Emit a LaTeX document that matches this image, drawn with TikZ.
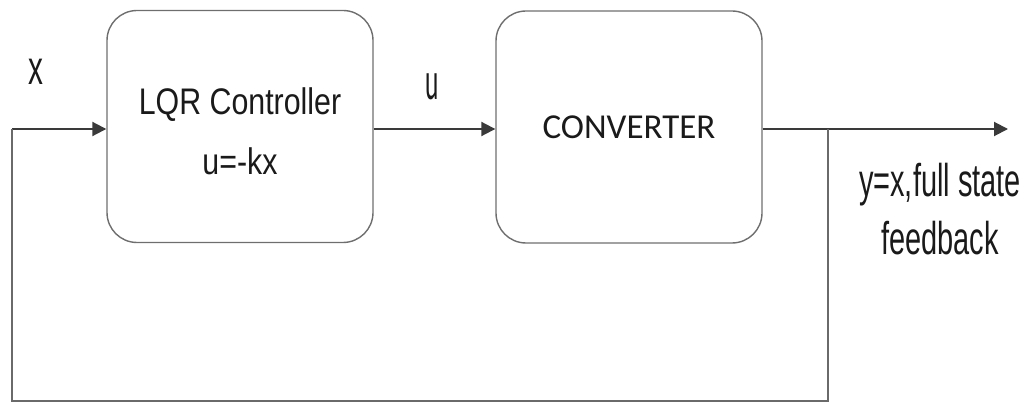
\documentclass[tikz,border=0pt]{standalone}
\usepackage{fontspec}
\usetikzlibrary{arrows.meta}
\newfontfamily\lqrfont[FakeStretch=0.82]{Liberation Sans}
\newfontfamily\yfont[FakeStretch=0.63]{Liberation Sans}
\newfontfamily\xlabfont[FakeStretch=0.62]{Liberation Sans}
\newfontfamily\convfont{Carlito}
\newfontfamily\ulabfont[FakeStretch=0.47]{Carlito}
\definecolor{txt}{HTML}{1A1A1A}
\definecolor{wire}{HTML}{3A3A3A}
\definecolor{fbwire}{HTML}{6A6A6A}
\definecolor{boxline}{HTML}{6E6E6E}
\begin{document}
\begin{tikzpicture}[x=1pt,y=-1pt,
  blockbox/.style={draw=boxline,line width=1.4pt,rounded corners=30pt,
    minimum width=266pt,minimum height=232pt,inner sep=0pt,align=center,text=txt},
  sigwire/.style={draw=wire,line width=2pt,-{Triangle[length=14pt,width=14pt]}},
  fbline/.style={draw=fbwire,line width=2.2pt},
  lab/.style={inner sep=0pt,text=txt}]
\useasboundingbox (0,0) rectangle (1030,406);
\node[blockbox,font={\lqrfont\fontsize{37}{60}\selectfont}] (ctrl) at (240,126.5)
  {\rule{0pt}{37pt}LQR Controller\\u=-kx};
\node[blockbox,font={\convfont\fontsize{35}{42}\selectfont}] (conv) at (629,127) {CONVERTER};
\coordinate (in) at (12,129);
\coordinate (out) at (1008,129);
\coordinate (tap) at (828,129);
\coordinate (fbr) at (828,401);
\coordinate (fbl) at (12,401);
\draw[sigwire] (in) -- (ctrl.west |- in);
\draw[sigwire] (ctrl.east |- in) -- (conv.west |- in);
\draw[sigwire] (conv.east |- out) -- (out);
\draw[fbline] (tap) -- (fbr) -- (fbl) -- (in);
\node[lab,font={\xlabfont\fontsize{48}{48}\selectfont}] (xlab) at (35.5,71.5) {x};
\node[lab,font={\ulabfont\fontsize{54}{54}\selectfont}] (ulab) at (432,87) {u};
\node[lab,align=center,font={\yfont\fontsize{46}{58}\selectfont}] (ylab) at (940,209.5)
  {y=x,full state\\feedback};
\end{tikzpicture}
\end{document}
